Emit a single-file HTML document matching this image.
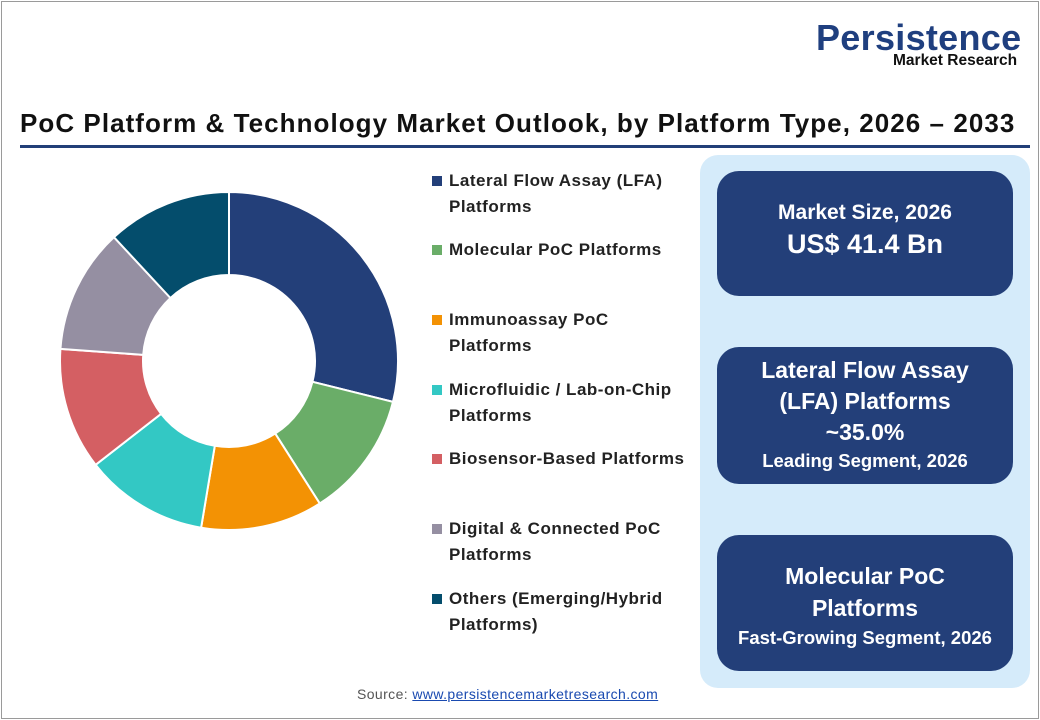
<!DOCTYPE html>
<html><head><meta charset="utf-8"><style>
body{margin:0;width:1040px;height:720px;background:#fff;font-family:"Liberation Sans",sans-serif;position:relative;overflow:hidden}
.frame{position:absolute;left:1px;top:1px;width:1036px;height:716px;border:1px solid #9a9a9a;}
.abs{position:absolute}
.logo1{left:816px;top:17px;font-size:36px;font-weight:bold;color:#1f3f7f;letter-spacing:0.3px}
.logo2{left:893px;top:52px;font-size:15.5px;font-weight:bold;color:#111}
.title{left:20px;top:108px;font-size:26px;font-weight:bold;color:#111;white-space:nowrap;letter-spacing:1.05px}
.rule{left:20px;top:145px;width:1010px;height:3px;background:#223f78}
.panel{left:700px;top:155px;width:330px;height:533px;background:#d5ebfa;border-radius:18px}
.box{left:717px;width:296px;background:#233f79;border-radius:22px;color:#fff;text-align:center;font-weight:bold}
.leg{left:432px;font-size:17px;font-weight:bold;color:#222;line-height:26px;letter-spacing:0.5px;white-space:nowrap}
.leg i{position:absolute;left:0;top:8px;width:10px;height:10px}
.leg span{display:block;padding-left:17px}
.src{left:357px;top:686px;font-size:14px;color:#555;letter-spacing:0.4px}
.src u{color:#1a4ab0}
</style></head><body>
<div class="frame"></div>
<div class="abs logo1">Persistence</div>
<div class="abs logo2">Market Research</div>
<div class="abs title">PoC Platform &amp; Technology Market Outlook, by Platform Type, 2026 – 2033</div>
<div class="abs rule"></div>
<svg class="abs" style="left:0;top:0" width="420" height="560" id="s"></svg>
<div class="abs leg" style="top:168px"><i style="background:#233f79"></i><span>Lateral Flow Assay (LFA)<br>Platforms</span></div>
<div class="abs leg" style="top:237px"><i style="background:#6aad68"></i><span>Molecular PoC Platforms</span></div>
<div class="abs leg" style="top:307px"><i style="background:#f39204"></i><span>Immunoassay PoC<br>Platforms</span></div>
<div class="abs leg" style="top:377px"><i style="background:#33c8c4"></i><span>Microfluidic / Lab-on-Chip<br>Platforms</span></div>
<div class="abs leg" style="top:446px"><i style="background:#d45f63"></i><span>Biosensor-Based Platforms</span></div>
<div class="abs leg" style="top:516px"><i style="background:#958fa2"></i><span>Digital &amp; Connected PoC<br>Platforms</span></div>
<div class="abs leg" style="top:586px"><i style="background:#044d6c"></i><span>Others (Emerging/Hybrid<br>Platforms)</span></div>
<div class="abs panel"></div>
<div class="abs box" style="top:171px;height:125px"><div style="margin-top:30px;font-size:21px">Market Size, 2026</div><div style="font-size:27px;margin-top:4px">US$ 41.4 Bn</div></div>
<div class="abs box" style="top:347px;height:137px"><div style="margin-top:8px;font-size:23px;line-height:31px">Lateral Flow Assay<br>(LFA) Platforms<br>~35.0%</div><div style="font-size:18.5px;margin-top:2px">Leading Segment, 2026</div></div>
<div class="abs box" style="top:535px;height:136px"><div style="margin-top:25px;font-size:23px;line-height:32px">Molecular PoC<br>Platforms</div><div style="font-size:18.5px;margin-top:3px">Fast-Growing Segment, 2026</div></div>
<div class="abs src">Source: <u>www.persistencemarketresearch.com</u></div>
<script>
var cx=229,cy=361,R=169,r=86;
var segs=[[104,'#233f79'],[43.5,'#6aad68'],[42,'#f39204'],[42.6,'#33c8c4'],[42,'#d45f63'],[43,'#958fa2'],[42.9,'#044d6c']];
var a=0,h='';
function p(ang,rad){var t=(ang-90)*Math.PI/180;return (cx+rad*Math.cos(t)).toFixed(2)+' '+(cy+rad*Math.sin(t)).toFixed(2);}
segs.forEach(function(s){var b=a+s[0],l=s[0]>180?1:0;
h+='<path d="M'+p(a,R)+' A'+R+' '+R+' 0 '+l+' 1 '+p(b,R)+' L'+p(b,r)+' A'+r+' '+r+' 0 '+l+' 0 '+p(a,r)+'Z" fill="'+s[1]+'" stroke="#fff" stroke-width="2"/>';a=b;});
document.getElementById('s').innerHTML=h;
</script>
</body></html>
